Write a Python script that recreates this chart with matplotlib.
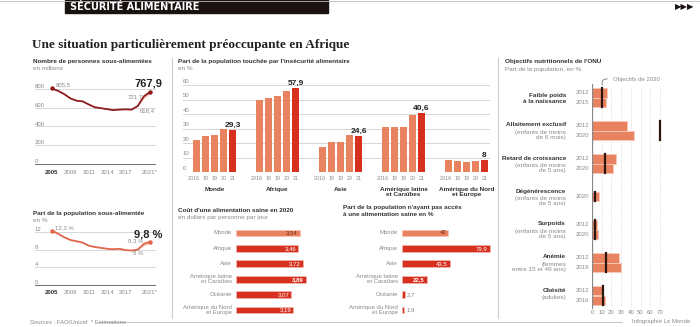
import matplotlib
matplotlib.use('Agg')
import matplotlib.pyplot as plt

# --- data ---
years = list(range(2005, 2022))
undernourished = [805.5, 780, 745, 700, 675, 668, 635, 605, 595, 585, 575, 580, 583, 580,
                  618.4, 721.7, 767.9]
undernourished_pct = [12.3, 11.6, 10.8, 10.2, 9.9, 9.6, 8.9, 8.6, 8.4, 8.2, 8.1, 8.2, 7.9, 7.8,
                      8.0, 9.3, 9.8]
band_years = [2019, 2020, 2021]
band_low = [618.4, 700, 745]
band_high = [618.4, 745, 792]
band_pct_low = [8.0, 8.9, 9.4]
band_pct_high = [8.0, 9.6, 10.2]
year_ticks = [2005, 2008, 2011, 2014, 2017, 2021]
year_tick_labels = ['2005', '2008', '2011', '2014', '2017', '2021*']

regions = ['Monde', 'Afrique', 'Asie', 'Amérique latine\net Caraïbes', 'Amérique du Nord\net Europe']
insec_years = ['2016', '18', '19', '20', '21']
insec_monde = [22.3, 24.8, 25.3, 29.7, 29.3]
insec_afrique = [49.9, 51.3, 52.4, 56.1, 57.9]
insec_asie = [17.2, 20.5, 20.7, 25.3, 24.6]
insec_amlat = [30.8, 31.0, 31.3, 39.5, 40.6]
insec_nord = [8.4, 7.3, 7.0, 7.6, 8.0]
insec_labels = ['29,3', '57,9', '24,6', '40,6', '8']

cost_regions = ['Monde', 'Afrique', 'Asie', 'Amérique latine\net Caraïbes', 'Océanie',
                'Amérique du Nord\net Europe']
cost_values = [3.54, 3.46, 3.72, 3.89, 3.07, 3.19]
cost_labels = ['3,54', '3,46', '3,72', '3,89', '3,07', '3,19']
no_access = [42, 79.9, 43.5, 22.5, 2.7, 1.9]
no_access_labels = ['42', '79,9', '43,5', '22,5', '2,7', '1,9']

onu_titles = ['Faible poids\nà la naissance', 'Allaitement exclusif', 'Retard de croissance',
              'Dégénérescence', 'Surpoids', 'Anémie', 'Obésité']
onu_subtitles = ['', '(enfants de moins\nde 6 mois)', '(enfants de moins\nde 5 ans)',
                 '(enfants de moins\nde 5 ans)', '(enfants de moins\nde 5 ans)',
                 '(femmes\nentre 15 et 49 ans)', '(adultes)']
onu_years = [['2012', '2015'], ['2012', '2020'], ['2012', '2020'], ['2020'],
             ['2012', '2020'], ['2012', '2019'], ['2012', '2016']]
onu_values = [[15, 14.6], [36, 43], [25, 22], [6.7], [5.5, 5.7], [28, 29.5], [11.7, 13.1]]
onu_targets = [10.5, 70, 13, 3, 3, 14.3, 11.7]

SALMON = '#E8825F'
RED = '#D7301F'
DARKRED = '#8E1B1B'
GRAY = '#8a8a8a'
TXT = '#333333'
SANS = ['Liberation Sans', 'DejaVu Sans']
FS = 4.3     # small text
FT = 4.6     # panel titles

W, H = 700, 327
fig = plt.figure(figsize=(7, 3.27), dpi=100)


def px_axes(x0, y0, x1, y1):
    ax = fig.add_axes([x0 / W, 1 - y1 / H, (x1 - x0) / W, (y1 - y0) / H])
    ax.set_facecolor('none')
    for s in ax.spines.values():
        s.set_visible(False)
    ax.set_xticks([])
    ax.set_yticks([])
    return ax


def ftext(x, y, s, **kw):
    kw.setdefault('family', SANS)
    kw.setdefault('color', TXT)
    fig.text(x / W, 1 - y / H, s, **kw)


def fline(xs, ys, **kw):
    fig.add_artist(plt.Line2D([x / W for x in xs], [1 - y / H for y in ys], **kw))


# --- header ---
fline([0, 700], [1, 1], color='#bbbbbb', lw=0.6)
fig.add_artist(plt.Rectangle((65 / W, 1 - 13 / H), 263 / W, 13 / H, color='#1a1210'))
ftext(70, 7, 'SÉCURITÉ ALIMENTAIRE', color='white', fontsize=7, weight='bold', va='center',
      family='DejaVu Sans')
ftext(694, 7, '▶▶▶', color='#1a1210', fontsize=6, va='center', ha='right', family='DejaVu Sans')
ftext(32, 45, 'Une situation particulièrement préoccupante en Afrique', fontsize=9.5,
      weight='bold', va='center', family=['Liberation Serif', 'DejaVu Serif'], color='#222222')

# separators and footer
fline([172, 172], [58, 318], color='#cccccc', lw=0.8)
fline([498, 498], [58, 318], color='#cccccc', lw=0.8)
ftext(30, 322, 'Sources : FAO/Unicef  * Estimations', fontsize=FS, color=GRAY, va='center')
fline([98, 622], [322, 322], color='#bbbbbb', lw=0.6)
ftext(690, 322, 'Infographie Le Monde', fontsize=FS, color=GRAY, va='center', ha='right')


# --- line charts ---
def line_panel(y_top, y_bot, vals, lo, hi, color, ymax, ticks):
    x0, x1 = 35, 156
    ax = px_axes(x0, y_top - 4, x1, y_bot + 2)
    ppy = (150 - 52) / 16
    ppv = (y_bot - y_top) / ymax
    ax.set_xlim(2005 - (52 - x0) / ppy, 2021 + (x1 - 150) / ppy)
    ax.set_ylim(-2 / ppv, ymax + 4 / ppv)
    for t in ticks:
        ax.axhline(t, color='#555555' if t == 0 else '#d0d0d0', lw=0.6, zorder=0)
        ax.text(ax.get_xlim()[0], t, str(t), fontsize=FS, color=GRAY, family=SANS,
                va='bottom', ha='left')
    ax.fill_between(band_years, lo, hi, color='#f2a9a0', alpha=0.6, lw=0)
    ax.plot(years, vals, color=color, lw=1.3, solid_capstyle='round')
    ax.plot([years[0], years[-1]], [vals[0], vals[-1]], 'o', ms=2.2, color=color)
    for yr, lab in zip(year_ticks, year_tick_labels):
        ax.text(yr, -8 / ppv, lab, fontsize=FS, ha='center', va='center',
                family=SANS, color=TXT if yr == 2005 else GRAY,
                weight='bold' if yr == 2005 else 'normal')
    return ax


ftext(33, 62, 'Nombre de personnes sous-alimentées', fontsize=FT, weight='bold', va='center')
ftext(33, 69, 'en millions', fontsize=FT, color=GRAY, va='center')
axA = line_panel(89, 164, undernourished, band_low, band_high, DARKRED, 800,
                 [0, 200, 400, 600, 800])
axA.text(2005.6, undernourished[0] + 15, '805,5', fontsize=FS, color=GRAY, family=SANS,
         va='bottom')
axA.text(2019.9, 721.7, '721,7', fontsize=FS, color=GRAY, family=SANS, ha='right', va='center')
axA.text(2019.3, 590, '618,4', fontsize=FS, color=GRAY, family=SANS, va='top')
axA.text(2023.0, 800, '767,9', fontsize=8, weight='bold', color='#222222', family=SANS,
         ha='right', va='bottom', clip_on=False)

ftext(33, 213, 'Part de la population sous-alimentée', fontsize=FT, weight='bold', va='center')
ftext(33, 220, 'en %', fontsize=FT, color=GRAY, va='center')
axB = line_panel(232, 285, undernourished_pct, band_pct_low, band_pct_high, '#E0654A', 12,
                 [0, 4, 8, 12])
axB.text(2005.5, 12.4, '12,3 %', fontsize=FS, color=GRAY, family=SANS, va='bottom')
axB.text(2019.9, 9.5, '9,3 %', fontsize=FS, color=GRAY, family=SANS, ha='right', va='bottom')
axB.text(2019, 7.6, '8 %', fontsize=FS, color=GRAY, family=SANS, ha='center', va='top')
axB.text(2023.0, 10.4, '9,8 %', fontsize=8, weight='bold', color='#222222', family=SANS,
         ha='right', va='bottom', clip_on=False)

# --- insecurity grouped bars ---
ftext(178, 62, "Part de la population touchée par l'insécurité alimentaire", fontsize=FT,
      weight='bold', va='center')
ftext(178, 69, 'en %', fontsize=FT, color=GRAY, va='center')
axC = px_axes(183, 78, 490, 172)
ppu = 9.0
axC.set_xlim(-(196.5 - 183) / ppu, 32 + (490 - 484.5) / ppu)
axC.set_ylim(0, 94 / 1.45)
for t in range(0, 70, 10):
    axC.axhline(t, color='#555555' if t == 0 else '#d0d0d0', lw=0.6, zorder=0)
    axC.text(axC.get_xlim()[0], t + 0.8, str(t), fontsize=FS, color=GRAY, family=SANS,
             va='bottom', ha='left')
insec_all = [insec_monde, insec_afrique, insec_asie, insec_amlat, insec_nord]
for g, (vals, name, lab) in enumerate(zip(insec_all, regions, insec_labels)):
    xs = [g * 7 + i for i in range(len(vals))]
    cols = [SALMON] * (len(vals) - 1) + [RED]
    axC.bar(xs, vals, width=0.75, color=cols, zorder=2)
    axC.text(xs[-1], vals[-1] + 0.8, lab, fontsize=6, weight='bold', ha='center', va='bottom',
             family=SANS, color='#222222')
    for i, (x, yl) in enumerate(zip(xs, insec_years)):
        axC.text(x - (0.25 if i == 0 else 0), -4.8, yl, fontsize=3.9, color=GRAY,
                 ha='center', va='center', family=SANS)
    axC.text(g * 7 + 2, -10.5, name, fontsize=FT, weight='bold', ha='center', va='top',
             family=SANS, color=TXT, linespacing=1.0)


# --- horizontal bar panels ---
def hbar_panel(x0, x1, ppv, vals, labels, label_in_min):
    ax = px_axes(x0, 225, x1, 318)
    ax.set_xlim(0, (x1 - x0) / ppv)
    sp = 15.4
    ax.set_ylim(5 + 8 / sp, -8 / sp)
    for i, (v, lab, name) in enumerate(zip(vals, labels, cost_regions)):
        c = SALMON if i == 0 else RED
        ax.barh(i, v, height=0.45, color=c, edgecolor='#f6c0b5', lw=0.4)
        if v >= label_in_min:
            ax.text(v - 2 / ppv, i, lab, fontsize=FS, ha='right', va='center', family=SANS,
                    color='#7a2a1a' if i == 0 else 'white', weight='bold' if i == 3 else 'normal')
        else:
            ax.text(v + 2 / ppv, i, lab, fontsize=FS, ha='left', va='center', family=SANS,
                    color=GRAY)
        ax.text(-4 / ppv, i, name, fontsize=FS, ha='right', va='center', family=SANS,
                color=GRAY, linespacing=1.0)
    return ax


ftext(178, 210, "Coût d'une alimentation saine en 2020", fontsize=FT, weight='bold', va='center')
ftext(178, 217, 'en dollars par personne par jour', fontsize=FT, color=GRAY, va='center')
hbar_panel(236, 330, 18.0, cost_values, cost_labels, 1)

ftext(343, 207, "Part de la population n'ayant pas accès", fontsize=FT, weight='bold',
      va='center')
ftext(343, 214, 'à une alimentation saine en %', fontsize=FT, weight='bold', va='center')
hbar_panel(402, 495, 1.1, no_access, no_access_labels, 10)

# --- ONU targets ---
ftext(505, 62, "Objectifs nutritionnels de l'ONU", fontsize=FT, weight='bold', va='center')
ftext(505, 69, 'Part de la population, en %', fontsize=FT, color=GRAY, va='center')
axF = px_axes(592, 75, 668, 318)
ppx = (660 - 592) / 70
axF.set_xlim(0, 76 / ppx)
axF.set_ylim(318, 75)  # y in pixel rows
for t in range(10, 80, 10):
    axF.plot([t, t], [88, 306], color='#c8c8c8', lw=0.5, ls=(0, (1, 1.5)), zorder=0)
axF.plot([0, 0], [84, 308], color='#888888', lw=0.9, zorder=3)
for t in range(0, 80, 10):
    axF.text(t, 312, str(t), fontsize=FS, color=GRAY, ha='center', va='center', family=SANS)
bh = 9.2
for g, (title, sub, yrs, vals, tgt) in enumerate(zip(onu_titles, onu_subtitles, onu_years,
                                                     onu_values, onu_targets)):
    cy = 97.5 + 33 * g
    n = len(vals)
    ys = [cy + (i - (n - 1) / 2) * bh for i in range(n)]
    axF.barh(ys, vals, height=bh, color=SALMON, edgecolor='#f7c9b8', lw=0.6, zorder=2)
    for y, yr in zip(ys, yrs):
        axF.text(-3 / ppx, y, yr, fontsize=FS, color=GRAY, ha='right', va='center',
                 family=SANS)
    axF.plot([tgt, tgt], [ys[0] - bh / 2, ys[-1] + bh / 2], color='#2b150f', lw=1.6, zorder=4)
    ntitle = title.count('\n') + 1
    top = cy - 8 if sub else cy - 4
    ftext(566, top, title, fontsize=FT, weight='bold', ha='right', va='top', linespacing=1.1)
    if sub:
        ftext(566, top + 7.5 * ntitle, sub, fontsize=FT, color=GRAY, ha='right',
              va='top', linespacing=1.1)
axF.annotate('Objectifs de 2030', xy=(onu_targets[0], 88), xytext=(21.5, 79),
             fontsize=FS, color=GRAY, family=SANS, va='center', ha='left',
             arrowprops=dict(arrowstyle='-', color='#777777', lw=0.6,
                             connectionstyle='angle,angleA=0,angleB=90,rad=4'))

fig.savefig('out.png', dpi=100)
